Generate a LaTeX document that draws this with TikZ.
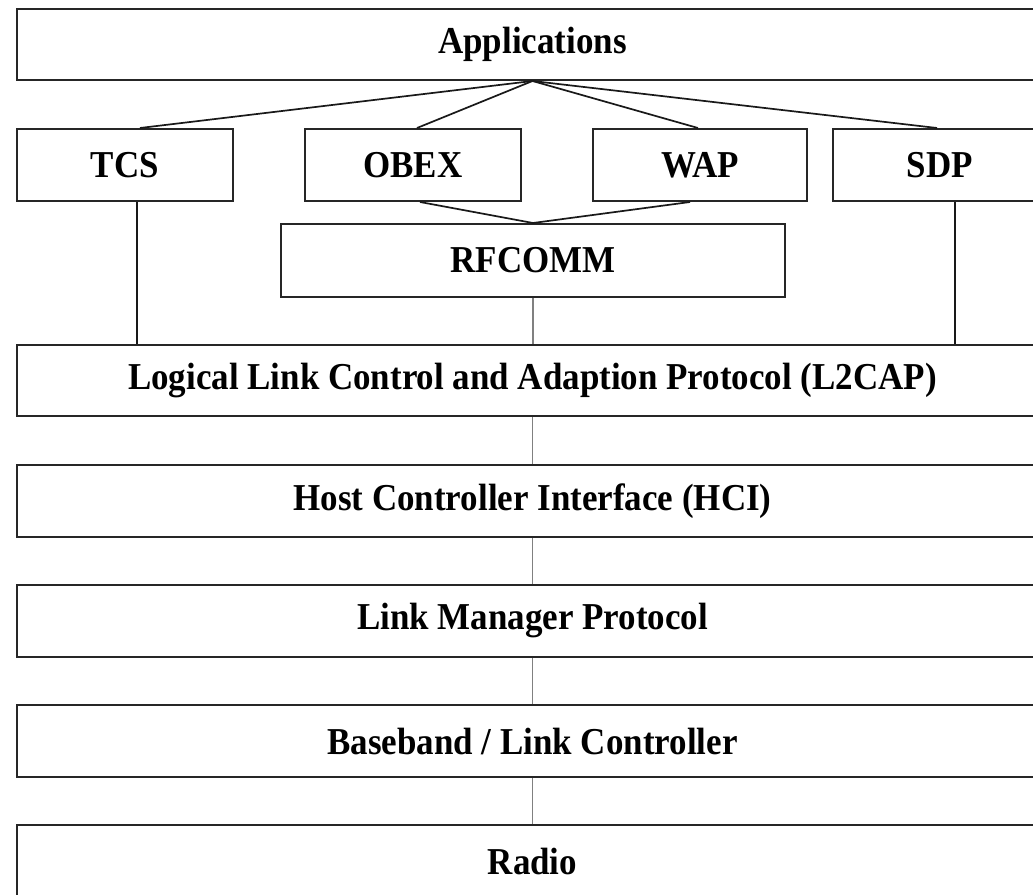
\documentclass[tikz,border=0pt]{standalone}
\usepackage{fontspec}
\setmainfont{Liberation Serif}
\newfontfamily\diagfont[FakeStretch=0.92]{Liberation Serif}
\begin{document}
\begin{tikzpicture}[x=1pt,y=-1pt,
  layer/.style={draw=black!85,line width=2pt,fill=white,minimum height=71pt,inner sep=0pt,
    font=\diagfont\fontsize{38}{42}\selectfont\bfseries},
  link/.style={draw=black!90,line width=1.7pt},
  glink/.style={draw=black!50,line width=1.9pt}]
\useasboundingbox (0,0) rectangle (1033,894);
\fill[white] (0,0) rectangle (1033,894);
\clip (0,0) rectangle (1033,894);
% boxes
\node[layer,minimum width=1031pt] (app) at (532.5,44.5) {Applications};
\node[layer,minimum width=216pt,minimum height=72pt] (tcs) at (125,165) {TCS};
\node[layer,minimum width=216pt,minimum height=72pt] (obex) at (413,165) {OBEX};
\node[layer,minimum width=214pt,minimum height=72pt] (wap) at (700,165) {WAP};
\node[layer,minimum width=214pt,minimum height=72pt] (sdp) at (940,165) {SDP};
\node[layer,minimum width=504pt,minimum height=73pt] (rfcomm) at (533,260.5) {RFCOMM};
\node[layer,minimum width=1031pt] (l2cap) at (532.5,380.5) {Logical Link Control and Adaption Protocol (L2CAP)};
\node[layer,minimum width=1031pt,minimum height=72pt] (hci) at (532.5,501) {Host Controller Interface (HCI)};
\node[layer,minimum width=1031pt,minimum height=72pt] (lmp) at (532.5,621) {Link Manager Protocol};
\node[layer,minimum width=1031pt,minimum height=72pt] (bb) at (532.5,741) {Baseband / Link Controller};
\node[layer,minimum width=1031pt,minimum height=72pt] (radio) at (532.5,861) {Radio};
% connectors
\draw[link] (app.south) -- ([xshift=15pt]tcs.north);
\draw[link] (app.south) -- ([xshift=4pt]obex.north);
\draw[link] (app.south) -- ([xshift=-2pt]wap.north);
\draw[link] (app.south) -- ([xshift=-3pt]sdp.north);
\draw[link] ([xshift=7pt]obex.south) -- (rfcomm.north);
\draw[link] ([xshift=-10pt]wap.south) -- (rfcomm.north);
\draw[link] ([xshift=12pt]tcs.south) -- ([xshift=12pt]tcs.south |- l2cap.north);
\draw[link] ([xshift=15pt]sdp.south) -- ([xshift=15pt]sdp.south |- l2cap.north);
\draw[glink] (rfcomm.south) -- (rfcomm.south |- l2cap.north);
\draw[glink] (l2cap.south) -- (hci.north);
\draw[glink] (hci.south) -- (lmp.north);
\draw[glink] (lmp.south) -- (bb.north);
\draw[glink] (bb.south) -- (radio.north);
\end{tikzpicture}
\end{document}
